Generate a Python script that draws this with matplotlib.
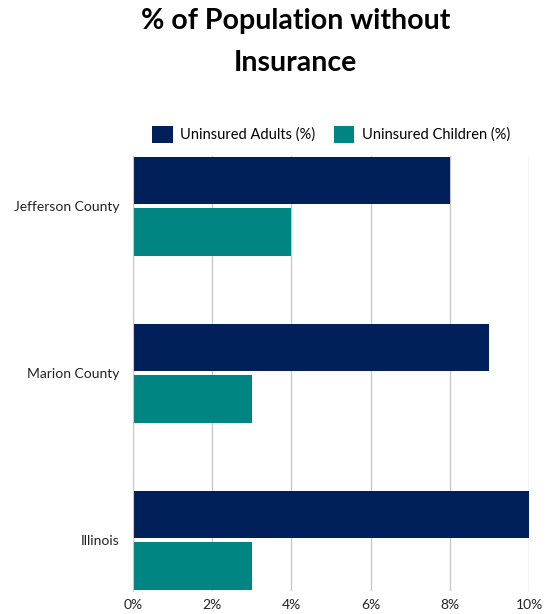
import numpy as np
import matplotlib.pyplot as plt
from matplotlib.ticker import FuncFormatter

plt.rcParams['font.family'] = ['Lato', 'DejaVu Sans']

# data
regions = ["Jefferson County", "Marion County", "Illinois"]
adults = [8, 9, 10]
children = [4, 3, 3]

navy = "#001f5b"
teal = "#008582"

fig = plt.figure(figsize=(5.54, 6.14), dpi=100)
ax = fig.add_axes([0.240, 0.0375, 0.715, 0.709])

y = np.arange(len(regions))
h = 0.287
off = 0.153
ax.barh(y - off, adults, height=h, color=navy, label="Uninsured Adults (%)", zorder=3)
ax.barh(y + off, children, height=h, color=teal, label="Uninsured Children (%)", zorder=3)

ax.set_xlim(0, 10)
ax.set_ylim(2.305, -0.302)
ax.set_xticks(range(0, 11, 2))
ax.xaxis.set_major_formatter(FuncFormatter(lambda v, p: f"{v:.0f}%"))
ax.set_yticks(y)
ax.set_yticklabels(regions)
ax.tick_params(length=0, labelsize=10, colors="#222222", pad=10)
ax.tick_params(axis='x', pad=6)
ax.grid(axis='x', color="#c8c8c8", linewidth=1, zorder=0)
for s in ["top", "right", "bottom"]:
    ax.spines[s].set_visible(False)
ax.spines["left"].set_color("#c8c8c8")
ax.spines["left"].set_zorder(4)

ax.legend(loc="lower center", bbox_to_anchor=(0.5, 1.0), ncol=2, frameon=False,
          fontsize=10.5, handlelength=1.4, handleheight=1.4, columnspacing=1.3,
          handletextpad=0.5)

fig.text(0.534, 0.965, "% of Population without", ha="center", va="center",
         fontsize=20.5, fontweight="bold")
fig.text(0.534, 0.898, "Insurance", ha="center", va="center",
         fontsize=20.5, fontweight="bold")

fig.savefig("out.png", dpi=100)
